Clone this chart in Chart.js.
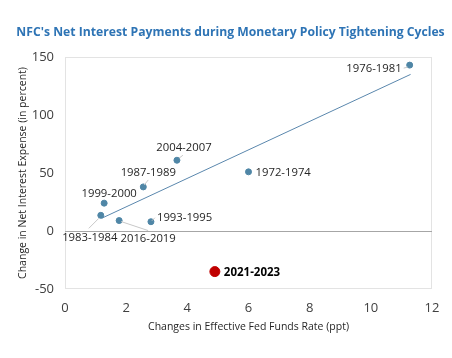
<!DOCTYPE html>
<html>
<head>
<meta charset="utf-8">
<script src="https://cdn.jsdelivr.net/npm/chart.js@4"></script>
<style>
  body { margin: 0; background: #fff; }
  #wrap { width: 452px; height: 358px; }
</style>
</head>
<body>
<div id="wrap"><canvas id="canvas" width="452" height="358"></canvas></div>
<script>
// data
var periods = ['1976-1981', '1972-1974', '2004-2007', '1987-1989', '1999-2000', '1983-1984', '2016-2019', '1993-1995'];
var fedChange = [11.27, 6.0, 3.66, 2.56, 1.28, 1.17, 1.77, 2.81];
var interestChange = [143, 51, 61, 38, 24, 13.5, 9, 8];
var recentPeriod = '2021-2023';
var recentFed = 4.9;
var recentInterest = -35;
var trendX = [1.2, 11.3];
var trendY = [11, 135];
var xTicks = [0, 2, 4, 6, 8, 10, 12];
var yTicks = [-50, 0, 50, 100, 150];
var chartTitle = "NFC's Net Interest Payments during Monetary Policy Tightening Cycles";

// label placement (pixel offsets from the point) and leader lines
var labelPos = [
  {dx: -8, dy: 4, align: 'right'},
  {dx: 7, dy: 1, align: 'left'},
  {dx: 7, dy: -12, align: 'center'},
  {dx: 5, dy: -14, align: 'center'},
  {dx: 5, dy: -9, align: 'center'},
  {dx: -11, dy: 22, align: 'center'},
  {dx: 29, dy: 18, align: 'center'},
  {dx: 6, dy: -4, align: 'left'}
];
var leaders = [
  [-6, 3, -2, 2],
  null,
  [2, -2, 6, -5],
  [1, -2, 5, -7],
  null,
  [-2, 3, -12, 13],
  [2, 1, 29, 10],
  [1, -1, 4, -4]
];

var pts = [];
for (var i = 0; i < periods.length; i++) {
  pts.push({x: fedChange[i], y: interestChange[i]});
}

var labelPlugin = {
  id: 'labels',
  beforeDatasetsDraw: function (chart) {
    var ctx = chart.ctx;
    var a = chart.chartArea;
    var ys = chart.scales.y;
    ctx.save();
    // title
    ctx.fillStyle = '#2e74b5';
    ctx.font = 'bold 12.2px "Open Sans"';
    ctx.textAlign = 'center';
    ctx.textBaseline = 'middle';
    ctx.fillText(chartTitle, 230.5, 33);
    // plot frame + zero line
    ctx.strokeStyle = '#e3e3e3';
    ctx.lineWidth = 1;
    ctx.strokeRect(a.left + 0.5, a.top + 0.5, a.right - a.left - 1, a.bottom - a.top - 1);
    var z = Math.round(ys.getPixelForValue(0)) + 0.5;
    ctx.strokeStyle = '#a6a6a6';
    ctx.lineWidth = 1.2;
    ctx.beginPath();
    ctx.moveTo(a.left, z);
    ctx.lineTo(a.right, z);
    ctx.stroke();
    ctx.restore();
  },
  afterDatasetsDraw: function (chart) {
    var ctx = chart.ctx;
    var meta = chart.getDatasetMeta(0);
    ctx.save();
    ctx.strokeStyle = '#c8c8c8';
    ctx.lineWidth = 1;
    for (var i = 0; i < periods.length; i++) {
      var p = meta.data[i];
      var l = leaders[i];
      if (l) {
        ctx.beginPath();
        ctx.moveTo(p.x + l[0], p.y + l[1]);
        ctx.lineTo(p.x + l[2], p.y + l[3]);
        ctx.stroke();
      }
    }
    ctx.fillStyle = '#262626';
    ctx.font = '11.3px "Open Sans"';
    ctx.textBaseline = 'middle';
    for (var i = 0; i < periods.length; i++) {
      var p = meta.data[i];
      ctx.textAlign = labelPos[i].align;
      ctx.fillText(periods[i], p.x + labelPos[i].dx, p.y + labelPos[i].dy);
    }
    var r = chart.getDatasetMeta(1).data[0];
    ctx.font = 'bold 11.5px "Open Sans"';
    ctx.textAlign = 'left';
    ctx.fillStyle = '#000';
    ctx.fillText(recentPeriod, r.x + 9, r.y + 1);
    ctx.restore();
  }
};

var config = {
  type: 'scatter',
  data: {
    datasets: [
      {
        label: 'Cycles',
        data: pts,
        backgroundColor: '#4f86a6',
        borderColor: '#4f86a6',
        pointRadius: 3,
        pointHoverRadius: 3,
        order: 1
      },
      {
        label: recentPeriod,
        data: [{x: recentFed, y: recentInterest}],
        backgroundColor: '#c00000',
        borderColor: '#c00000',
        pointRadius: 5,
        order: 0
      },
      {
        label: 'Trend',
        type: 'line',
        data: [{x: trendX[0], y: trendY[0]}, {x: trendX[1], y: trendY[1]}],
        borderColor: '#5a87ad',
        borderWidth: 1,
        pointRadius: 0,
        fill: false,
        order: 2
      }
    ]
  },
  options: {
    responsive: false,
    animation: false,
    layout: { padding: { left: 0, right: 20, top: 57, bottom: 18 } },
    plugins: {
      legend: { display: false },
      tooltip: { enabled: false },
      title: { display: false }
    },
    scales: {
      x: {
        type: 'linear',
        min: 0,
        max: 12,
        afterBuildTicks: function (s) { s.ticks = xTicks.map(function (v) { return {value: v}; }); },
        afterFit: function (s) { s.height = 51; },
        grid: { display: false, drawTicks: false },
        border: { display: false },
        ticks: { color: '#404040', font: { family: '"Open Sans"', size: 13 }, padding: 11 },
        title: {
          display: true,
          text: 'Changes in Effective Fed Funds Rate (ppt)',
          color: '#262626',
          font: { family: '"Open Sans"', size: 10.5 },
          padding: { top: 0, bottom: 7 }
        }
      },
      y: {
        min: -50,
        max: 150,
        afterBuildTicks: function (s) { s.ticks = yTicks.map(function (v) { return {value: v}; }); },
        afterFit: function (s) { s.width = 65; },
        grid: { display: false, drawTicks: false },
        border: { display: false },
        ticks: { color: '#404040', font: { family: '"Open Sans"', size: 13 }, padding: 11 },
        title: {
          display: true,
          text: 'Change in Net Interest Expense (in percent)',
          color: '#262626',
          font: { family: '"Open Sans"', size: 10.5 },
          padding: { top: 17, bottom: 0 }
        }
      }
    }
  },
  plugins: [labelPlugin]
};

var chart = new Chart(document.getElementById('canvas'), config);
</script>
</body>
</html>
